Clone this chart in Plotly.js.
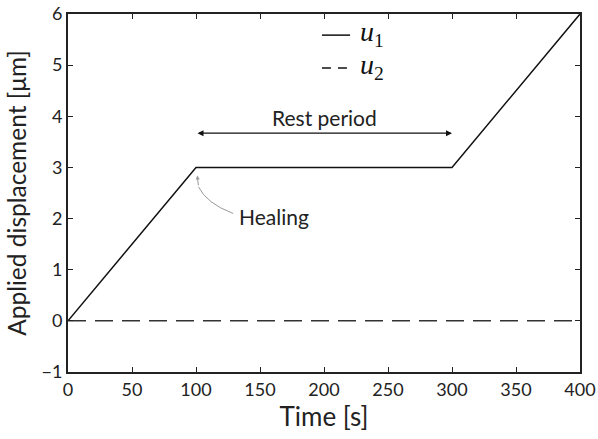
<!DOCTYPE html>
<html><head><meta charset="utf-8">
<script src="https://cdn.plot.ly/plotly-3.0.1.min.js"></script>
<style>body{margin:0;background:#fff}</style>
</head><body><div id="plot" style="width:598px;height:439px"></div>
<script>
const timeU1 = [0, 100, 300, 400];
const dispU1 = [0, 3, 3, 6];
const timeU2 = [0, 400];
const dispU2 = [0, 0];
const seriesNames = ['<i>u</i><sub>1</sub>', '<i>u</i><sub>2</sub>'];
const xTicks = [0, 50, 100, 150, 200, 250, 300, 350, 400];
const yTicks = [-1, 0, 1, 2, 3, 4, 5, 6];
const yTickText = ['\u22121', '0', '1', '2', '3', '4', '5', '6'];
const restStart = 100, restEnd = 300, restY = 3.67;

const font = 'Lato, "Open Sans", sans-serif';
const lineStyles = [
  {color: '#111', width: 1.5},
  {color: '#333', width: 1.5, dash: '18px,9px'}
];
const traces = [
  {x: timeU1, y: dispU1, mode: 'lines', name: seriesNames[0], line: lineStyles[0]},
  {x: timeU2, y: dispU2, mode: 'lines', name: seriesNames[1], line: lineStyles[1]}
];
const axisCommon = {showgrid: false, zeroline: false, showline: true, mirror: 'ticks',
  linecolor: '#222', linewidth: 2, ticks: 'inside', ticklen: 5, tickcolor: '#222',
  tickfont: {family: font, size: 18, color: '#222'}};

// manual legend (paper coords)
const legX0 = 0.496, legX1 = 0.551, legTextX = 0.566, legY = [0.941, 0.849];
const legendShapes = legY.map((y, i) => ({type: 'line', xref: 'paper', yref: 'paper',
  x0: legX0, x1: legX1, y0: y, y1: y,
  line: {color: '#111', width: 1.5, dash: i === 0 ? 'solid' : '9px,7px'}}));
const legendTexts = legY.map((y, i) => ({x: legTextX, y: y, xref: 'paper', yref: 'paper',
  xanchor: 'left', yanchor: 'middle', showarrow: false, text: seriesNames[i], yshift: 2,
  font: {family: '"Liberation Serif", "DejaVu Serif", serif', size: 28, color: '#111'}}));

const layout = {
  margin: {l: 68, r: 18, t: 14, b: 67},
  paper_bgcolor: '#fff', plot_bgcolor: '#fff',
  xaxis: Object.assign({}, axisCommon, {range: [0, 400], tickvals: xTicks,
    title: {text: 'Time [s]', font: {family: font, size: 26, color: '#222'}, standoff: 4}}),
  yaxis: Object.assign({}, axisCommon, {range: [-1, 6], tickvals: yTicks, ticktext: yTickText,
    title: {text: 'Applied displacement [\u03bcm]', font: {family: font, size: 24.5, color: '#222'}, standoff: 8}}),
  showlegend: false,
  annotations: [
    {x: restEnd, y: restY, ax: restStart, ay: restY, xref: 'x', yref: 'y', axref: 'x', ayref: 'y',
     showarrow: true, arrowhead: 2, arrowside: 'end+start', arrowsize: 1, arrowwidth: 1.2,
     arrowcolor: '#111', text: ''},
    {x: (restStart + restEnd) / 2, y: restY, xref: 'x', yref: 'y', text: 'Rest period',
     showarrow: false, yanchor: 'bottom', yshift: 1,
     font: {family: font, size: 21, color: '#222'}},
    {x: 132, y: 2.05, xref: 'x', yref: 'y', text: 'Healing', showarrow: false, xanchor: 'left',
     font: {family: font, size: 21, color: '#222'}},
    {x: 101, y: 2.84, ax: 102, ay: 2.62, xref: 'x', yref: 'y', axref: 'x', ayref: 'y',
     showarrow: true, arrowhead: 2, arrowsize: 0.8, arrowwidth: 1, arrowcolor: '#999', text: ''}
  ].concat(legendTexts),
  shapes: [
    {type: 'path', xref: 'x', yref: 'y', path: 'M 129 2.1 Q 108 2.3 102 2.62',
     line: {color: '#999', width: 1}}
  ].concat(legendShapes)
};
Plotly.newPlot('plot', traces, layout, {displayModeBar: false, staticPlot: true});
</script></body></html>
